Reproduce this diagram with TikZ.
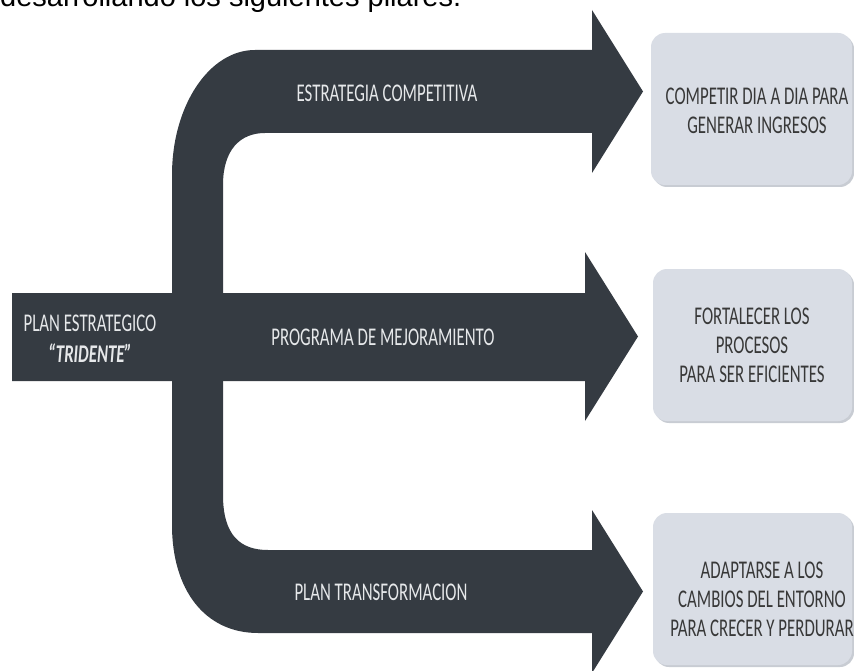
\documentclass[tikz,border=0pt]{standalone}
\usepackage{fontspec}
\setmainfont{Carlito}
\newfontfamily\bodyfont{Liberation Sans}
\usepackage{graphicx}
\definecolor{arrowc}{HTML}{353B42}
\definecolor{boxc}{HTML}{D9DDE5}
\definecolor{boxshadow}{HTML}{C8CCD3}
\definecolor{boxtext}{HTML}{383838}
\definecolor{arrowtext}{HTML}{E6E8EA}
\newcommand\narrowtxt[1]{\scalebox{0.66}[1]{#1}}
\begin{document}
\begin{tikzpicture}[x=1pt,y=-1pt,
  arrowfill/.style={fill=arrowc, draw=none},
  arrowlabel/.style={text=arrowtext, font=\fontsize{25.5}{29}\selectfont, inner sep=0pt},
  pillarbox/.style={fill=boxc, rounded corners=14pt, draw=none},
  pillarshadow/.style={fill=boxshadow, rounded corners=14pt, draw=none},
  boxlabel/.style={text=boxtext, font=\fontsize{25.5}{29}\selectfont, align=center, inner sep=0pt},
]
\useasboundingbox (0,0) rectangle (854,671);
\clip (0,0) rectangle (854,671);

% cut-off line of body text above the diagram
\node[anchor=base west, inner sep=0pt, font=\bodyfont\fontsize{29}{34}\selectfont] (intro) at (0,7) {desarrollando los siguientes pilares.};

% trident: top arrow, trunk, bottom arrow
\fill[arrowfill]
  (255,50) -- (592,50) -- (592,10) -- (643,91.5) -- (592,173) -- (592,133)
  -- (265,133) .. controls (240,133) and (223,150) .. (223,185)
  -- (223,495) .. controls (223,535) and (240,550) .. (268,550)
  -- (592,550) -- (592,510) -- (643,591.5) -- (592,673) -- (592,633)
  -- (258,633) .. controls (205,633) and (172,590) .. (172,525)
  -- (172,175) .. controls (172,106) and (209,50) .. (255,50) -- cycle;

% middle arrow
\fill[arrowfill]
  (12,293) -- (585,293) -- (585,252) -- (638,336.5) -- (585,421) -- (585,381)
  -- (12,381) -- cycle;

% arrow labels
\node[arrowlabel] (estr) at (387,93) {\narrowtxt{ESTRATEGIA COMPETITIVA}};
\node[arrowlabel] (prog) at (383,337) {\narrowtxt{PROGRAMA DE MEJORAMIENTO}};
\node[arrowlabel] (trans) at (381,592) {\narrowtxt{PLAN TRANSFORMACION}};
\node[arrowlabel] (plan) at (90,323) {\narrowtxt{PLAN ESTRATEGICO}};
\node[arrowlabel, font=\fontsize{25.5}{29}\selectfont\bfseries\itshape] (trid) at (90,353) {\narrowtxt{“TRIDENTE”}};

% pillar boxes
\fill[pillarshadow] (653,35) rectangle (854,187);
\fill[pillarbox] (651,33) rectangle (852,185);
\fill[pillarshadow] (655,271) rectangle (854,423);
\fill[pillarbox] (653,269) rectangle (852,421);
\fill[pillarshadow] (655,515) rectangle (854,667);
\fill[pillarbox] (653,513) rectangle (852,665);

\node[boxlabel] (b1) at (757,111) {\narrowtxt{COMPETIR DIA A DIA PARA}\\\narrowtxt{GENERAR INGRESOS}};
\node[boxlabel] (b2) at (752,345) {\narrowtxt{FORTALECER LOS}\\\narrowtxt{PROCESOS}\\\narrowtxt{PARA SER EFICIENTES}};
\node[boxlabel] (b3) at (762,599) {\narrowtxt{ADAPTARSE A LOS}\\\narrowtxt{CAMBIOS DEL ENTORNO}\\\narrowtxt{PARA CRECER Y PERDURAR}};
\end{tikzpicture}
\end{document}
